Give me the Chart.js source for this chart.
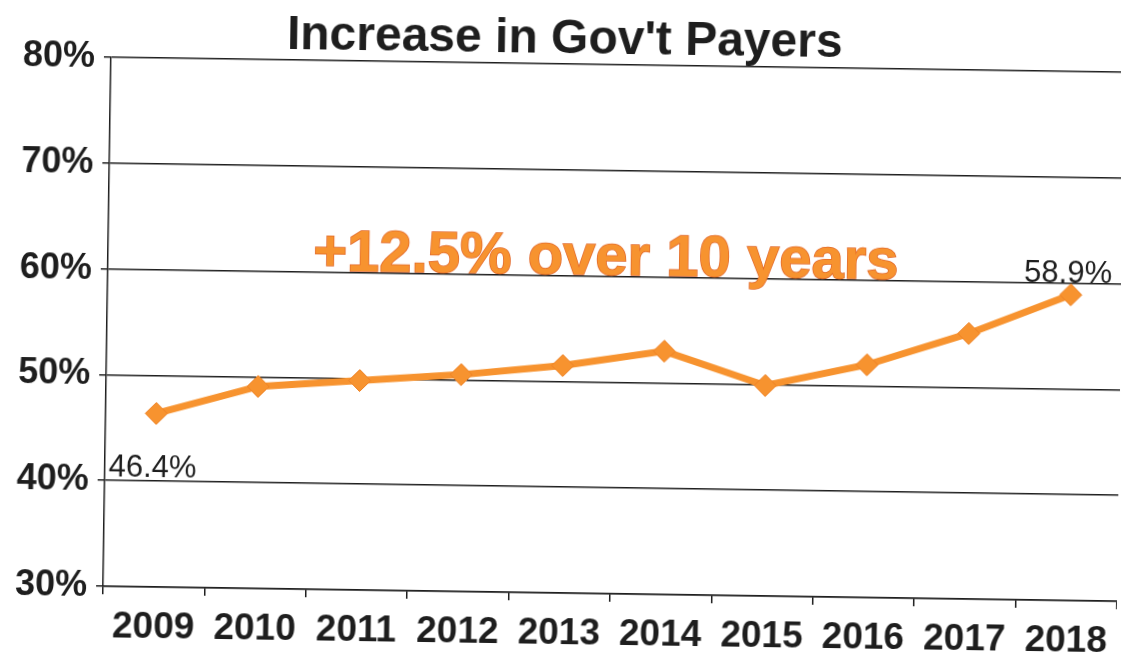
<!DOCTYPE html>
<html lang="en">
<head>
  <meta charset="UTF-8" />
  <title>Increase in Gov't Payers</title>
  <script src="https://cdn.jsdelivr.net/npm/chart.js"></script>
  <style>
    html, body {
      margin: 0;
      padding: 0;
      background: #fff;
      overflow: hidden;
    }
    #wrap {
      width: 1121px;
      height: 652px;
      /* the source is a slightly skewed scan */
      transform: rotate(0.85deg);
      transform-origin: 50% 50%;
    }
  </style>
</head>
<body>
  <div id="wrap">
    <canvas id="payersChart" width="1121" height="652"></canvas>
  </div>

  <script>
    const years = ['2009', '2010', '2011', '2012', '2013', '2014', '2015', '2016', '2017', '2018'];
    const govShare = [46.4, 49.1, 49.8, 50.5, 51.5, 53.0, 49.9, 52.0, 55.1, 58.9];
    const yTicks = [30, 40, 50, 60, 70, 80];
    const labelledPoints = [0, 9];
    const noteText = '+12.5% over 10 years';
    const noteAt = { x: 4.41, y: 60.15 };

    const orange = '#F7932F';
    const ink = '#1e1e1e';
    const sans = "'Liberation Sans', Arial, sans-serif";

    // first / last value labels and the orange note
    const extras = {
      id: 'extras',
      afterDatasetsDraw(chart) {
        const ctx = chart.ctx;
        const meta = chart.getDatasetMeta(0);
        const xs = chart.scales.x, ys = chart.scales.y;
        ctx.save();
        ctx.fillStyle = ink;
        ctx.font = '31px ' + sans;
        ctx.textBaseline = 'alphabetic';
        labelledPoints.forEach(i => {
          const p = meta.data[i];
          const txt = govShare[i].toFixed(1) + '%';
          if (i === 0) {
            ctx.textAlign = 'left';
            ctx.fillText(txt, p.x - 47, p.y + 64);
          } else {
            ctx.textAlign = 'center';
            ctx.fillText(txt, p.x - 3, p.y - 12);
          }
        });

        ctx.font = 'bold 58px ' + sans;
        ctx.textAlign = 'center';
        const nx = xs.getPixelForValue(noteAt.x);
        const ny = ys.getPixelForValue(noteAt.y);
        ctx.lineWidth = 1.5;
        ctx.strokeStyle = '#E2682A';
        ctx.strokeText(noteText, nx, ny);
        ctx.fillStyle = orange;
        ctx.fillText(noteText, nx, ny);
        ctx.restore();
      }
    };

    new Chart(document.getElementById('payersChart').getContext('2d'), {
      type: 'line',
      data: {
        labels: years,
        datasets: [{
          label: "Gov't payers",
          data: govShare,
          borderColor: orange,
          borderWidth: 7,
          backgroundColor: orange,
          pointStyle: 'rectRot',
          pointRadius: 11,
          pointBackgroundColor: orange,
          pointBorderColor: '#EE8226',
          pointBorderWidth: 1,
          tension: 0
        }]
      },
      options: {
        responsive: false,
        animation: false,
        devicePixelRatio: 1,
        layout: { padding: 0, autoPadding: false },
        plugins: {
          legend: { display: false },
          tooltip: { enabled: false },
          title: {
            display: true,
            text: "Increase in Gov't Payers",
            color: ink,
            font: { family: sans, size: 48, weight: 'bold', lineHeight: 1.0 },
            padding: { top: 16, bottom: 0 }
          }
        },
        scales: {
          x: {
            offset: true,
            grid: {
              offset: true,
              drawOnChartArea: false,
              color: ink,
              lineWidth: 1.5,
              tickLength: 8
            },
            border: { color: ink, width: 1.5 },
            ticks: {
              color: ink,
              padding: 11,
              maxRotation: 0,
              font: { family: sans, size: 37, weight: 'bold' }
            },
            afterFit(scale) {
              scale.height = 59;
              // let the plot run to the right edge like the scan
              scale.paddingLeft = 0;
              scale.paddingRight = 0;
            }
          },
          y: {
            min: yTicks[0],
            max: yTicks[yTicks.length - 1],
            afterBuildTicks(scale) { scale.ticks = yTicks.map(v => ({ value: v })); },
            grid: {
              color: ink,
              lineWidth: 1.5,
              tickLength: 7
            },
            border: { color: ink, width: 1.5 },
            ticks: {
              color: ink,
              padding: 9,
              font: { family: sans, size: 36, weight: 'bold' },
              callback: v => v + '%'
            },
            afterFit(scale) { scale.width = 107; }
          }
        }
      },
      plugins: [extras]
    });
  </script>
</body>
</html>
